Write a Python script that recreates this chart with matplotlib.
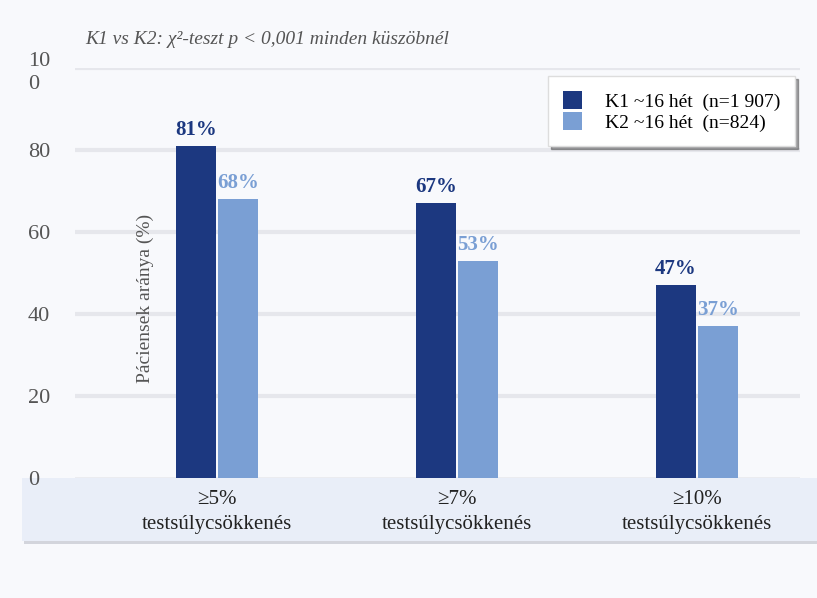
import matplotlib.pyplot as plt
from matplotlib.patches import Rectangle, Patch

categories = ['≥5%\ntestsúlycsökkenés', '≥7%\ntestsúlycsökkenés', '≥10%\ntestsúlycsökkenés']
k1_values = [81, 67, 47]
k2_values = [68, 53, 37]
k1_labels = ['81%', '67%', '47%']
k2_labels = ['68%', '53%', '37%']
series_names = ['K1 ~16 hét  (n=1 907)', 'K2 ~16 hét  (n=824)']
y_ticks = [0, 20, 40, 60, 80, 100]
y_tick_labels = ['0', '20', '40', '60', '80', '10\n0']

dark = '#1c3880'
light = '#7a9fd4'
bg = '#f8f9fc'

plt.rcParams['font.family'] = ['Liberation Serif', 'DejaVu Serif']

fig = plt.figure(figsize=(8.17, 5.98), dpi=100, facecolor=bg)
W, H = 817, 598

# category band at the bottom (figure coords), drawn behind the axes
fig.patches.append(Rectangle((24 / W, (H - 544) / H), 800 / W, 66 / H,
                             transform=fig.transFigure, facecolor='#d3d5dc',
                             edgecolor='none', zorder=-10))
fig.patches.append(Rectangle((22 / W, (H - 541) / H), 800 / W, 63 / H,
                             transform=fig.transFigure, facecolor='#e9eef8',
                             edgecolor='none', zorder=-9))

ax = fig.add_axes([75 / W, (H - 478) / H, 725 / W, 410 / H])
ax.set_facecolor('none')
x = list(range(len(categories)))
w = 40 / 240
ax.set_xlim(-142 / 240, 583 / 240)
ax.set_ylim(0, 100)

for v in y_ticks[1:]:
    ax.axhline(v, color='#e6e7ec', lw=3, zorder=0)
ax.axhline(0, color='#b8bac2', lw=1, zorder=1)

b1 = ax.bar([i - w / 2 - 0.004 for i in x], k1_values, w, color=dark, zorder=2)
b2 = ax.bar([i + w / 2 + 0.004 for i in x], k2_values, w, color=light, zorder=2)

for rect, lab in zip(b1, k1_labels):
    ax.text(rect.get_x() + rect.get_width() / 2, rect.get_height() + 1.5, lab,
            ha='center', va='bottom', fontsize=15, fontweight='bold', color=dark)
for rect, lab in zip(b2, k2_labels):
    ax.text(rect.get_x() + rect.get_width() / 2, rect.get_height() + 1.5, lab,
            ha='center', va='bottom', fontsize=15, fontweight='bold', color=light)

for s in ax.spines.values():
    s.set_visible(False)
ax.set_yticks(y_ticks)
ax.set_yticklabels(y_tick_labels, fontsize=16, color='#555555', ha='left',
                   linespacing=1.3)
ax.tick_params(axis='y', length=0, pad=34)
ax.set_xticks(x)
ax.set_xticklabels(categories, fontsize=15, color='#222222', linespacing=1.4)
ax.tick_params(axis='x', length=0, pad=9)

fig.text(145 / W, (H - 298) / H, 'Páciensek aránya (%)', rotation=90,
         ha='center', va='center', fontsize=14, color='#555555')
fig.text(85 / W, (H - 40) / H, 'K1 vs K2: χ²-teszt p < 0,001 minden küszöbnél',
         ha='left', va='center', fontsize=14, style='italic', color='#555555')

handles = [Patch(facecolor=dark), Patch(facecolor=light)]
leg = ax.legend(handles, series_names, loc='upper left',
                bbox_to_anchor=(548 / W, (H - 76) / H), bbox_transform=fig.transFigure,
                fontsize=14, frameon=True, fancybox=False, shadow=True,
                handlelength=1.0, handleheight=1.1, handletextpad=1.2,
                labelspacing=0.05, borderpad=0.75, borderaxespad=0)
leg.get_frame().set_edgecolor('#dddddd')
leg.get_frame().set_facecolor('white')

fig.savefig('out.png', dpi=100, facecolor=bg)
